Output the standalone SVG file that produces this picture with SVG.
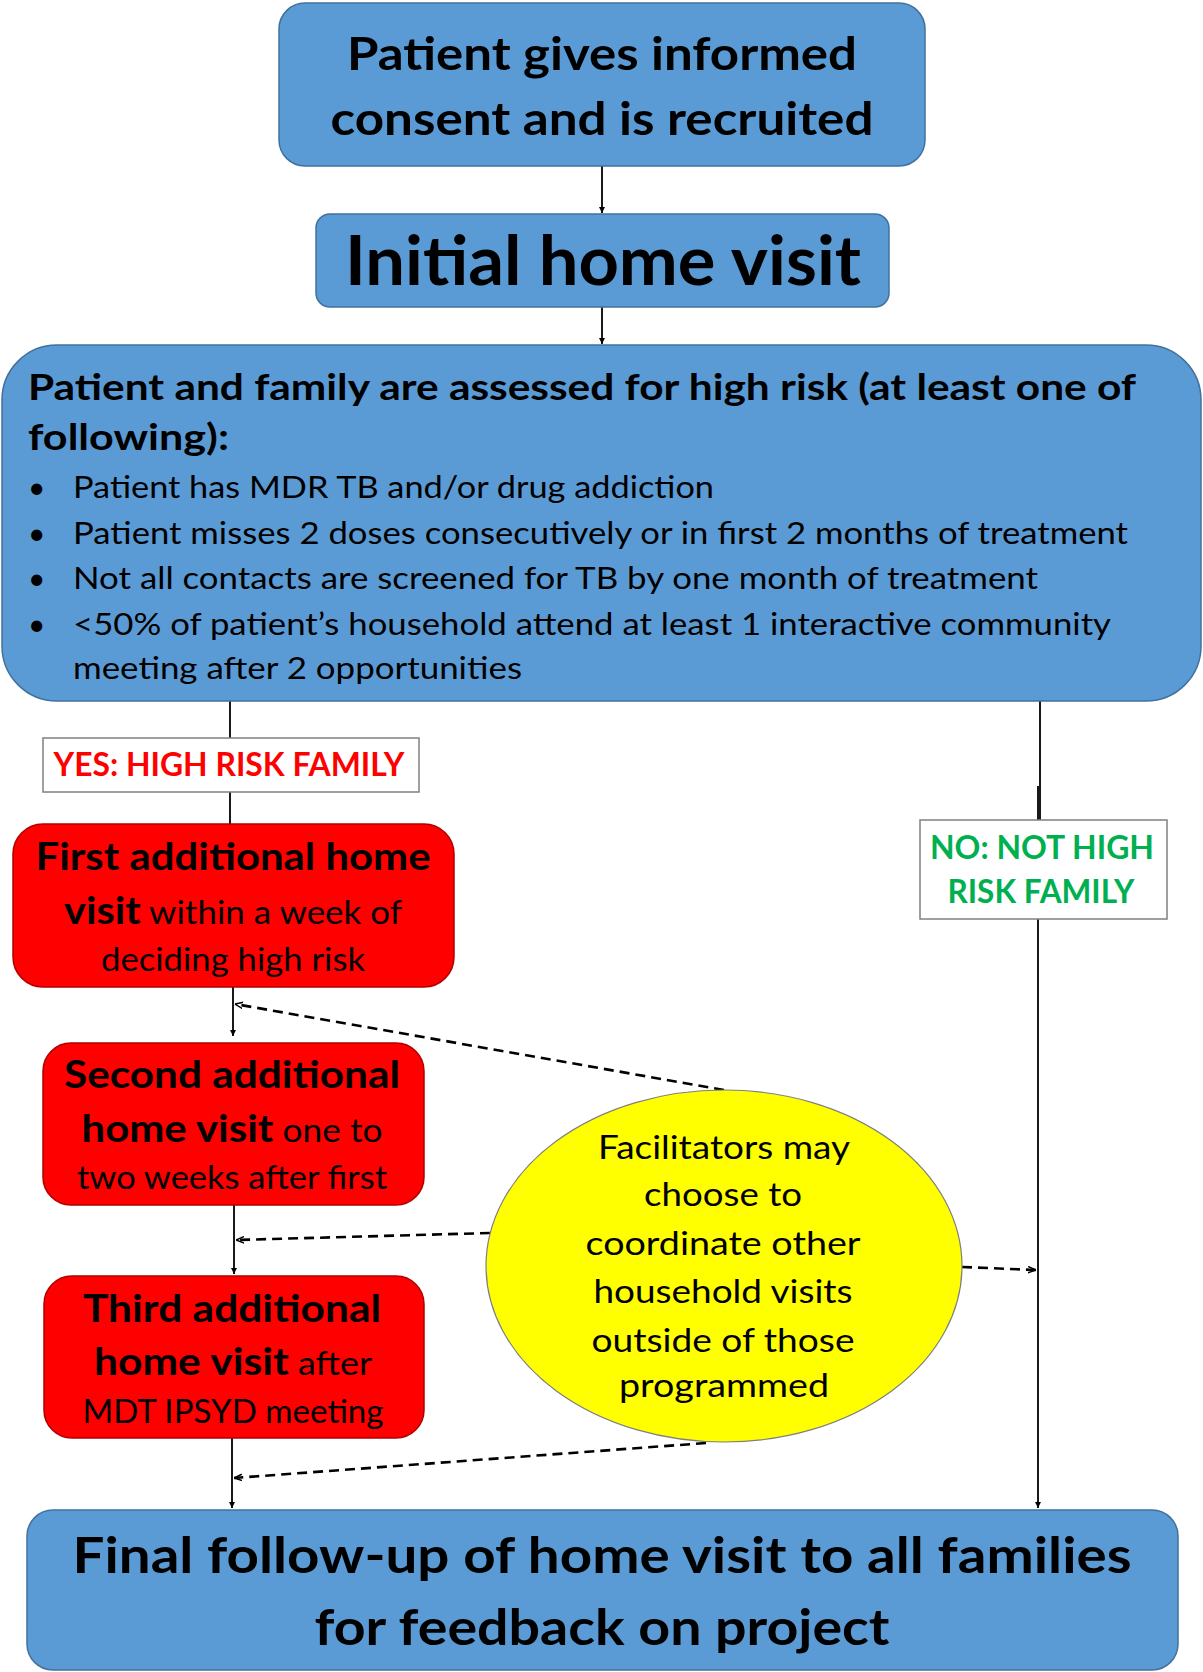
<svg xmlns="http://www.w3.org/2000/svg" width="1203" height="1672" viewBox="0 0 1203 1672">
<style>
  text { font-family: Lato, "Open Sans", "Liberation Sans", sans-serif; fill: #000; }
  .b { font-weight: bold; }
  .r { font-weight: normal; }
  .blue { fill: #5B9BD5; stroke: #41719C; stroke-width: 1.5; }
  .red { fill: #FF0000; stroke: #B00000; stroke-width: 1.5; }
  .lbl { fill: #FFFFFF; stroke: #808080; stroke-width: 1.5; }
  .yel { fill: #FFFF00; stroke: #7F7F7F; stroke-width: 1.2; }
  .ln { stroke: #000; stroke-width: 1.8; fill: none; }
  .dash { stroke: #000; stroke-width: 2.6; fill: none; stroke-dasharray: 10 6; }
</style>
<defs>
  <marker id="ah" viewBox="0 0 10 10" refX="10" refY="5" markerWidth="6" markerHeight="6" orient="auto" markerUnits="userSpaceOnUse">
    <path d="M0,0 L10,5 L0,10 z" fill="#000"/>
  </marker>
  <marker id="ahd" viewBox="0 0 10 10" refX="10" refY="5" markerWidth="8" markerHeight="8" orient="auto" markerUnits="userSpaceOnUse">
    <path d="M0,1 L10,5 L0,9" fill="none" stroke="#000" stroke-width="1.8"/>
  </marker>
</defs>
<rect width="1203" height="1672" fill="#FFFFFF"/>
<g id="connectors">
  <line class="ln" x1="602" y1="166" x2="602" y2="213" marker-end="url(#ah)"/>
  <line class="ln" x1="602" y1="307" x2="602" y2="344" marker-end="url(#ah)"/>
  <line class="ln" x1="230" y1="701" x2="230" y2="824"/>
  <line class="ln" x1="1040" y1="701" x2="1040" y2="820"/>
  <line class="ln" x1="1038" y1="786" x2="1038" y2="1508" marker-end="url(#ah)"/>
  <line class="ln" x1="233" y1="987" x2="233" y2="1036" marker-end="url(#ah)"/>
  <line class="ln" x1="234" y1="1205" x2="234" y2="1274" marker-end="url(#ah)"/>
  <line class="ln" x1="232" y1="1438" x2="232" y2="1508" marker-end="url(#ah)"/>
  <line class="dash" x1="724" y1="1090" x2="235" y2="1004" marker-end="url(#ahd)"/>
  <line class="dash" x1="490" y1="1233" x2="236" y2="1240" marker-end="url(#ahd)"/>
  <line class="dash" x1="962" y1="1267" x2="1036" y2="1270" marker-end="url(#ahd)"/>
  <line class="dash" x1="706" y1="1443" x2="234" y2="1478" marker-end="url(#ahd)"/>
</g>
<g id="node-consent">
  <rect class="blue" x="279" y="3" width="646" height="163" rx="26"/>
  <text class="b" x="602" y="70" font-size="46" text-anchor="middle" textLength="510" lengthAdjust="spacingAndGlyphs">Patient gives informed</text>
  <text class="b" x="602" y="135" font-size="46" text-anchor="middle" textLength="543" lengthAdjust="spacingAndGlyphs">consent and is recruited</text>
</g>
<g id="node-initial">
  <rect class="blue" x="316" y="214" width="573" height="93" rx="14"/>
  <text class="b" x="603" y="285" font-size="68" text-anchor="middle" textLength="516" lengthAdjust="spacingAndGlyphs">Initial home visit</text>
</g>
<g id="node-assess">
  <rect class="blue" x="2" y="345" width="1199" height="356" rx="55"/>
  <text class="b" x="28" y="400" font-size="36" textLength="1108" lengthAdjust="spacingAndGlyphs">Patient and family are assessed for high risk (at least one of</text>
  <text class="b" x="28" y="450" font-size="36" textLength="201" lengthAdjust="spacingAndGlyphs">following):</text>
  <g font-size="30" class="r">
    <text x="28" y="498" font-size="30">•</text>
    <text x="73" y="498" font-size="30" textLength="641" lengthAdjust="spacingAndGlyphs">Patient has MDR TB and/or drug addiction</text>
    <text x="28" y="544" font-size="30">•</text>
    <text x="73" y="544" font-size="30" textLength="1055" lengthAdjust="spacingAndGlyphs">Patient misses 2 doses consecutively or in first 2 months of treatment</text>
    <text x="28" y="589" font-size="30">•</text>
    <text x="73" y="589" font-size="30" textLength="965" lengthAdjust="spacingAndGlyphs">Not all contacts are screened for TB by one month of treatment</text>
    <text x="28" y="635" font-size="30">•</text>
    <text x="73" y="635" font-size="30" textLength="1038" lengthAdjust="spacingAndGlyphs">&lt;50% of patient’s household attend at least 1 interactive community</text>
    <text x="73" y="679" font-size="30" textLength="449" lengthAdjust="spacingAndGlyphs">meeting after 2 opportunities</text>
  </g>
</g>
<g id="label-yes">
  <rect class="lbl" x="43" y="738" width="376" height="54"/>
  <text class="b" x="229" y="776" font-size="32" text-anchor="middle" style="fill:#FF0000" textLength="351" lengthAdjust="spacingAndGlyphs">YES: HIGH RISK FAMILY</text>
</g>
<g id="label-no">
  <rect class="lbl" x="920" y="820" width="247" height="99"/>
  <text class="b" x="1042" y="859" font-size="32" text-anchor="middle" style="fill:#00B050" textLength="224" lengthAdjust="spacingAndGlyphs">NO: NOT HIGH</text>
  <text class="b" x="1041" y="903" font-size="32" text-anchor="middle" style="fill:#00B050" textLength="187" lengthAdjust="spacingAndGlyphs">RISK FAMILY</text>
</g>
<g id="node-visit1">
  <rect class="red" x="13" y="824" width="441" height="163" rx="30"/>
  <text class="b" x="233" y="870" font-size="38" text-anchor="middle" textLength="395" lengthAdjust="spacingAndGlyphs">First additional home</text>
  <text x="233" y="924" font-size="32" text-anchor="middle" textLength="338" lengthAdjust="spacingAndGlyphs"><tspan class="b" font-size="38">visit</tspan><tspan class="r"> within a week of</tspan></text>
  <text class="r" x="233" y="971" font-size="32" text-anchor="middle" textLength="264" lengthAdjust="spacingAndGlyphs">deciding high risk</text>
</g>
<g id="node-visit2">
  <rect class="red" x="43" y="1043" width="381" height="162" rx="28"/>
  <text class="b" x="232" y="1088" font-size="38" text-anchor="middle" textLength="336" lengthAdjust="spacingAndGlyphs">Second additional</text>
  <text x="232" y="1142" font-size="32" text-anchor="middle" textLength="301" lengthAdjust="spacingAndGlyphs"><tspan class="b" font-size="38">home visit</tspan><tspan class="r"> one to</tspan></text>
  <text class="r" x="232" y="1189" font-size="32" text-anchor="middle" textLength="310" lengthAdjust="spacingAndGlyphs">two weeks after first</text>
</g>
<g id="node-visit3">
  <rect class="red" x="44" y="1276" width="380" height="162" rx="28"/>
  <text class="b" x="232" y="1322" font-size="38" text-anchor="middle" textLength="298" lengthAdjust="spacingAndGlyphs">Third additional</text>
  <text x="233" y="1375" font-size="32" text-anchor="middle" textLength="278" lengthAdjust="spacingAndGlyphs"><tspan class="b" font-size="38">home visit</tspan><tspan class="r"> after</tspan></text>
  <text class="r" x="233" y="1423" font-size="32" text-anchor="middle" textLength="301" lengthAdjust="spacingAndGlyphs">MDT IPSYD meeting</text>
</g>
<g id="node-facilitators">
  <ellipse class="yel" cx="724" cy="1266" rx="238" ry="176"/>
  <g class="r" font-size="32" text-anchor="middle">
    <text x="724" y="1159" text-anchor="middle" font-size="32" textLength="252" lengthAdjust="spacingAndGlyphs">Facilitators may</text>
    <text x="723" y="1206" text-anchor="middle" font-size="32" textLength="158" lengthAdjust="spacingAndGlyphs">choose to</text>
    <text x="723" y="1255" text-anchor="middle" font-size="32" textLength="275" lengthAdjust="spacingAndGlyphs">coordinate other</text>
    <text x="723" y="1303" text-anchor="middle" font-size="32" textLength="259" lengthAdjust="spacingAndGlyphs">household visits</text>
    <text x="723" y="1352" text-anchor="middle" font-size="32" textLength="263" lengthAdjust="spacingAndGlyphs">outside of those</text>
    <text x="724" y="1397" text-anchor="middle" font-size="32" textLength="210" lengthAdjust="spacingAndGlyphs">programmed</text>
  </g>
</g>
<g id="node-final">
  <rect class="blue" x="27" y="1510" width="1151" height="160" rx="26"/>
  <text class="b" x="602" y="1573" font-size="50" text-anchor="middle" textLength="1059" lengthAdjust="spacingAndGlyphs">Final follow-up of home visit to all families</text>
  <text class="b" x="602" y="1645" font-size="50" text-anchor="middle" textLength="575" lengthAdjust="spacingAndGlyphs">for feedback on project</text>
</g>
</svg>
